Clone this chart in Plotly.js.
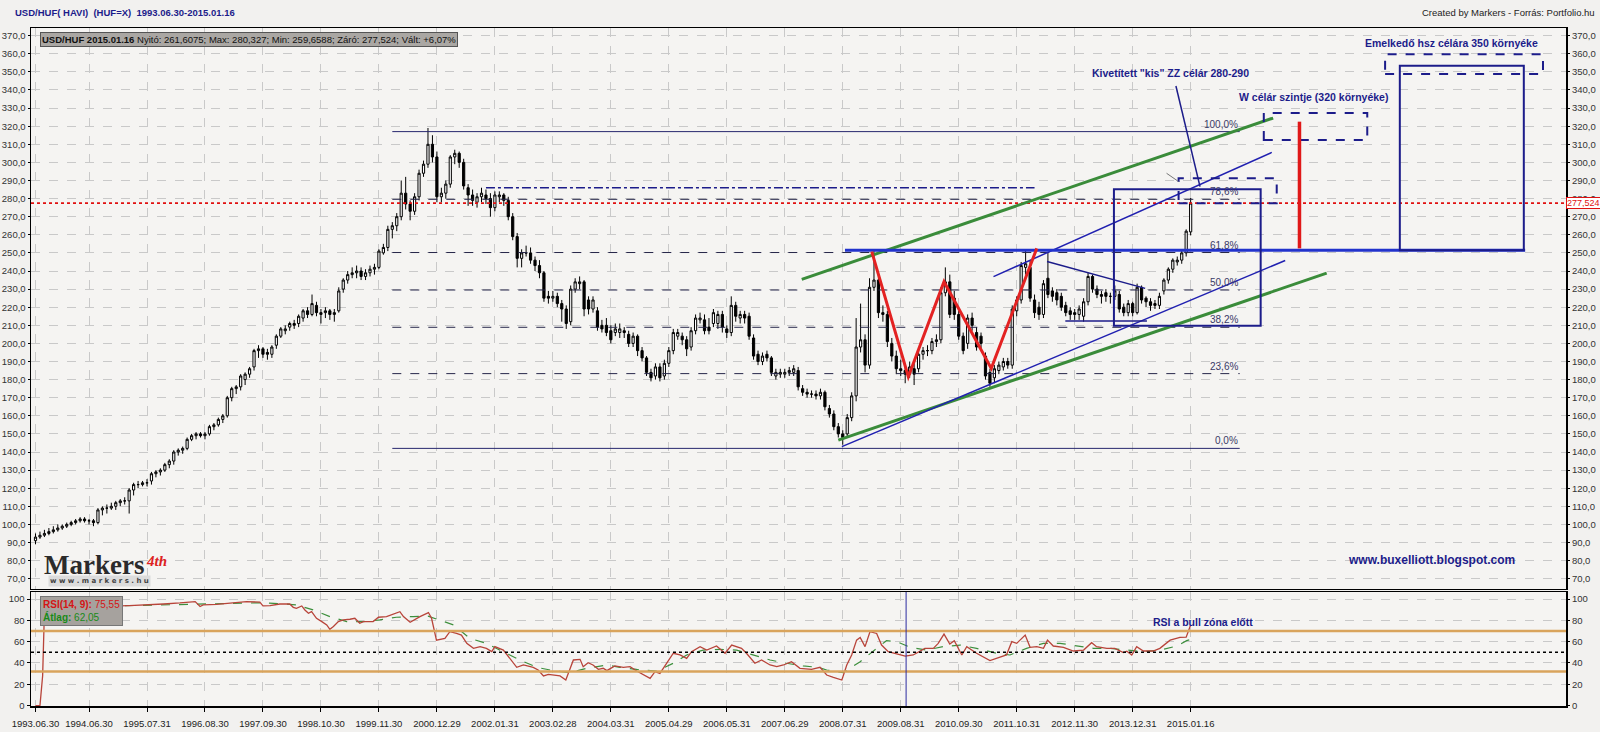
<!DOCTYPE html>
<html><head><meta charset="utf-8">
<script src="https://cdn.plot.ly/plotly-3.0.1.min.js"></script>
<style>html,body{margin:0;padding:0;background:#f2f1ef;}#chart{width:1600px;height:732px;}</style>
</head><body><div id="chart"></div>
<script>
// ---- monthly USD/HUF candles, 1993.06 .. 2015.01 (index 0..259) ----
const openP = [91,93,94,95,96,97,98,99,100,101,
102,103,102,102,101,108,109,109,110,112,
113,113,119,122,122,123,124,128,129,130,
133,135,140,141,142,147,149,150,149,150,
154,155,158,160,170,175,176,180,183,187,
196,197,195,194,199,204,207,209,211,211,
214,218,216,221,216,217,218,216,218,230,
235,238,239,240,237,239,241,242,250,253,
263,265,270,283,277,273,281,294,299,310,
303,281,283,288,303,305,300,286,282,278,
281,282,280,275,281,282,279,270,259,247,
250,250,246,243,239,226,225,226,222,219,
212,230,233,234,224,219,218,210,210,207,
206,206,207,205,200,204,196,192,184,182,
187,182,189,196,204,204,202,198,207,213,
213,209,211,211,216,208,206,221,214,216,
215,203,194,190,194,192,182,183,183,184,
184,185,175,173,172,172,171,173,164,161,
154,150,150,159,171,198,202,188,231,235,
217,216,200,193,186,185,183,186,186,194,
196,196,201,202,228,234,225,216,204,200,
214,206,204,193,184,181,185,187,190,188,
218,224,242,242,224,220,216,236,229,228,
226,221,218,217,216,215,223,237,230,227,
228,226,226,227,220,217,222,217,231,225,
223,222,221,229,235,241,245,246,250,261.6075];
const highP = [95,96,97,98,99,100,100,101,102,103,
104,104,103,103,109,110,111,112,113,114,
115,120,123,124,124,125,129,130,131,134,
136,141,142,143,148,150,151,151,151,155,
156,159,161,171,176,177,183,184,187,197,
199,198,197,199,205,209,210,212,213,216,
219,220,227,223,219,220,219,219,231,236,
240,242,243,242,241,243,244,252,255,265,
267,272,290,292,279,283,296,301,319,315,
306,286,290,304,307,306,302,288,285,283,
286,285,283,284,284,283,281,272,261,252,
254,253,248,246,240,229,229,228,224,221,
232,236,237,235,226,226,220,213,214,210,
211,211,209,207,206,205,198,193,186,189,
189,191,198,208,208,206,204,209,216,217,
216,214,219,218,218,210,226,223,218,218,
217,205,196,195,196,193,186,186,186,187,
188,187,177,175,174,174,175,174,166,163,
156,152,161,173,214,222,205,236,251,240,
221,218,203,196,191,188,190,189,196,198,
199,203,205,231,242,238,229,218,206,216,
217,209,206,195,186,188,190,192,192,221,
226,245,252,246,227,223,235,250,231,230,
228,223,220,219,221,225,239,238,232,229,
230,228,232,229,222,224,223,233,232,226,
225,224,228,236,242,247,248,251,263,280.327];
const lowP = [89,92,93,94,95,96,97,98,99,100,
101,101,100,99,100,105,106,108,108,110,
111,106,116,120,121,121,122,126,127,129,
131,133,138,139,141,146,147,148,147,149,
152,154,156,159,168,172,174,177,181,185,
192,192,191,192,197,203,205,207,208,209,
212,214,215,215,211,214,213,212,217,228,
233,236,236,235,235,237,238,241,249,251,
258,262,268,274,268,271,279,292,297,300,
278,278,280,286,299,297,285,276,276,275,
278,277,270,273,278,276,268,257,242,242,
248,244,240,236,223,222,223,220,212,208,
210,228,230,215,216,217,207,206,204,200,
204,203,203,198,198,193,190,182,179,180,
179,180,187,194,202,199,193,196,205,211,
205,205,209,208,206,203,204,212,211,211,
202,191,188,188,190,182,180,181,181,182,
182,174,171,170,170,169,169,163,159,152,
148,144,148,157,168,195,184,186,229,214,
212,198,190,183,182,178,181,177,184,191,
193,194,198,200,226,214,213,202,194,197,
207,196,197,180,176,178,183,185,186,186,
215,222,238,223,214,213,214,225,223,221,
218,215,213,213,213,212,221,228,225,222,
223,222,224,217,215,215,215,216,222,220,
218,219,219,227,233,239,243,244,248,259.6588];
const closeP = [93,94,95,96,97,98,99,100,101,102,
103,102,102,101,108,109,109,110,112,113,
113,119,122,122,123,123,128,129,130,133,
135,140,141,142,147,149,150,149,150,154,
155,158,160,170,175,176,182,183,186,196,
197,194,194,198,204,208,208,211,210,215,
218,216,222,217,217,218,216,217,229,235,
238,239,240,237,239,241,242,251,253,263,
265,270,283,277,273,281,294,299,310,303,
281,283,288,303,305,300,287,282,279,281,
283,280,275,282,282,279,270,259,247,250,
250,246,243,239,225,225,226,222,219,211,
230,234,234,219,219,224,209,208,206,202,
208,208,206,200,204,196,192,184,181,187,
181,189,196,206,206,202,197,207,214,214,
207,207,217,216,209,206,221,215,216,214,
204,193,190,193,192,184,184,184,184,185,
186,176,173,172,172,171,173,165,161,154,
150,148,159,171,198,202,188,231,235,217,
216,201,193,186,185,183,187,183,194,196,
196,201,202,228,234,216,216,204,196,214,
210,198,200,182,178,186,188,190,188,219,
224,243,244,225,217,216,233,227,226,224,
220,217,216,216,219,223,237,230,227,226,
226,226,229,219,217,222,217,231,224,223,
221,221,226,235,241,246,246,250,262,277.524];

// x tick labels (month index -> date label)
const tickIdx = [0,12,25,38,51,64,77,90,103,116,129,142,155,168,181,194,207,220,233,246,259];
const tickText = ['1993.06.30','1994.06.30','1995.07.31','1996.08.30','1997.09.30','1998.10.30','1999.11.30','2000.12.29','2002.01.31','2003.02.28','2004.03.31','2005.04.29','2006.05.31','2007.06.29','2008.07.31','2009.08.31','2010.09.30','2011.10.31','2012.11.30','2013.12.31','2015.01.16'];

// RSI(14) line (month index, value)
const rsiIdx = [0,1,1.6,2,3,8,14,21,25,28.7,32.4,35.8,36.9,37.6,40.6,43.6,47.3,50.3,51,52.6,54.8,57,57.8,58.5,59.7,60.4,61.2,61.9,63,64.2,65.3,66,66.8,67.9,69,70.5,71.6,72.7,73.5,75.7,76.9,78.7,80.2,81.7,82.5,84,86.2,88.1,88.8,89.9,91.8,92.9,94.4,95.5,96.7,98.2,99.7,101.1,102.3,103,104.9,106.4,107.9,109.4,111.6,112.7,113.9,115,116.1,117.6,118.9,120.6,122.1,122.8,123.9,125,126.2,127.3,128.1,129.9,131.8,133.3,134.8,136.3,137.8,138.9,140,141.5,143,144.5,146,147.1,149,150.5,152.7,154.6,156.1,158.3,159.4,161.3,162.8,164.7,166.2,167.7,169.5,171.4,174,175.9,177.4,178.9,180.8,181.9,183,184.1,184.9,186,187.1,188.6,189.7,191.2,193.1,195,196.8,198.3,199.4,201.3,202.4,203.7,205,206,207.7,208.8,211,214,215.5,217.7,218.9,220,221.9,223,224.5,226,226.9,228.2,230.5,232.7,235,236.8,237.9,240.2,242,243.9,244.7,245.8,246.9,248.4,250.6,252.1,254.4,256.6,258,259];
const rsiVal = [0,0,28,88,93,93,93,93.8,94.4,95.3,96.3,97.6,92.9,94.4,95,96,97.6,97,93.5,93.8,95.3,95.3,92.2,91.3,93.5,89.7,86.6,88.1,81.9,78.8,75.7,71.6,74.2,78.8,80.4,81,81.9,77.2,78.8,78.8,82.9,83.5,85.7,88.1,83.5,78.2,83.5,87.3,81.9,61.4,63,69.3,67.7,66.2,58.4,53.7,55.3,53.7,50.6,55.3,52.1,44.3,35.9,38.1,35.9,33.4,27.8,29.3,28.7,27.8,24,42.8,43.4,36.5,40.3,38.1,34,35,32.8,37.2,35.9,36.5,32.4,29.3,25.6,31.8,30.2,39.7,49.1,47.5,44.3,50.6,55.3,52.1,55.9,49.1,56.8,53.7,49.1,39.7,42.8,38.1,36.5,38.1,41.2,35,34,35.9,28.7,26.5,24,38.1,47.5,61.4,64,55.3,69.3,67.7,56.8,50.6,48.4,46.5,47.5,51.2,53.7,53.7,58.4,67.1,57.8,60.9,47.5,55.3,49.1,42.2,44.3,47.5,60,58.4,66.2,54.7,55.3,53.7,61.4,55.9,54.7,51.2,52.1,59,55.3,53.7,53.7,49.8,51,47.5,55.3,51.2,51.2,53.7,61.4,64,64.2,75.55];
// RSI average (9)
const avgIdx = [12,21.2,30,43.6,51,57,58.6,62.3,66,69.8,73.5,77.2,80.9,84.7,88,93.7,97.4,101.1,104.9,108.6,112.4,116.1,119.8,123.6,128.1,131,134.8,139.3,143,146,149.7,153.5,157.2,160.9,164.7,168.4,172.1,175.5,177.4,181.1,184.9,188.6,190.8,193.1,196.1,199.8,203.5,207.3,211,215.5,218.5,222.2,226,229.7,233.4,237.2,240.9,244.7,248.4,252.1,255.9,258.1,259];
const avgVal = [93,93.8,95,96,96.5,95,94.4,89.7,83.5,78.8,78.8,80.4,82.9,83.5,84,75.7,63,58.4,50.6,42.8,35.9,32.8,31,35,38.1,35.9,34,32.4,39.7,47.5,52.1,52.8,52.1,47.5,42.8,39.7,37.2,35.9,33.4,31,41.2,53.7,60.9,60,54.7,52.1,55.3,56.8,53.7,49.1,47.5,53.7,58.4,58.4,55.9,53.7,53.7,52.1,50.6,52.1,55.9,60.9,62.05];

// Fibonacci retracement levels drawn on the chart
const fibLevels = [142, 183.3, 208.9, 229.5, 250.2, 279.6, 317];
const fibLabels = ['0,0%','23,6%','38,2%','50,0%','61,8%','78,6%','100,0%'];
const lastClose = 277.524;

// ---------------- drawing ----------------
const months = openP.map((_, k) => k);
const F = "'Liberation Sans', Arial, sans-serif";
const NAVY = '#1c1c8a';
const GRID = '#c9c9c9';

const priceTicks = [], priceText = [];
for (let v = 70; v <= 370; v += 10) { priceTicks.push(v); priceText.push(v.toFixed(1).replace('.', ',')); }
const rsiTicks = [0,20,40,60,80,100];

const traces = [
  {type:'candlestick', x:months, open:openP, high:highP, low:lowP, close:closeP,
   xaxis:'x', yaxis:'y', whiskerwidth:0, hoverinfo:'skip', showlegend:false,
   increasing:{line:{color:'#000', width:1}, fillcolor:'#ffffff'},
   decreasing:{line:{color:'#000', width:1}, fillcolor:'#000000'}},
  {type:'scatter', mode:'lines', x:avgIdx, y:avgVal, xaxis:'x2', yaxis:'y2',
   line:{color:'#3d8f3d', width:1.2, dash:'dash'}, hoverinfo:'skip', showlegend:false},
  {type:'scatter', mode:'lines', x:rsiIdx, y:rsiVal, xaxis:'x2', yaxis:'y2',
   line:{color:'#b8443a', width:1.3}, hoverinfo:'skip', showlegend:false}
];

function seg(x0,y0,x1,y1,color,width,dash){
  return {type:'line', xref:'x', yref:'y', x0, y0, x1, y1, line:{color, width, dash:dash||'solid'}};
}
function box(x0,y0,x1,y1,color,width,dash){
  return {type:'rect', xref:'x', yref:'y', x0, y0, x1, y1, line:{color, width, dash:dash||'solid'}, fillcolor:'rgba(0,0,0,0)'};
}

const shapes = [];
shapes.push({type:'line', xref:'x domain', yref:'y', x0:0, x1:1, y0:lastClose, y1:lastClose, line:{color:'#e01010', width:1.6, dash:'dot'}});
fibLevels.forEach((lv, k) => {
  const solid = (k === 0 || k === fibLevels.length - 1);
  shapes.push(seg(80, lv, 270, lv, solid ? '#27276e' : '#27274a', 1, solid ? 'solid' : 'dash'));
});
shapes.push(seg(101, 286, 224, 286, NAVY, 1.5, 'dashdot'));
shapes.push(seg(171.8, 235.4, 277.5, 324.5, '#3a8c3a', 3));
shapes.push(seg(180, 146.6, 289.5, 238.8, '#3a8c3a', 3));
shapes.push(seg(180.8, 143, 280.2, 245.8, '#2020b0', 1.5));
shapes.push(seg(214.8, 236.9, 277.2, 305.5, '#2020b0', 1.5));
shapes.push(seg(181.5, 251.5, 334, 251.5, '#2233cc', 3));
shapes.push(seg(226.8, 245.2, 248.8, 230.4, NAVY, 1.5));
shapes.push(seg(230.9, 212.4, 249.2, 212.4, NAVY, 1.5));
shapes.push({type:'path', xref:'x', yref:'y', path:'M187.5,250.7 L195.7,181.6 L203.7,234.1 L214.3,186.2 L224.5,252.5', line:{color:'#e32222', width:3}});
shapes.push(box(241.8, 209.8, 274.7, 285.1, NAVY, 2));
shapes.push(box(256.3, 277.4, 278.3, 291.2, NAVY, 2, 'dash'));
shapes.push(seg(253.6, 294, 256.3, 289.4, '#777777', 1));
shapes.push(seg(255.7, 342.2, 261.1, 286.6, NAVY, 1.5));
shapes.push(box(275.4, 312.4, 298.6, 327.3, NAVY, 2, 'dash'));
shapes.push(seg(283.4, 252.5, 283.4, 322.5, '#e01818', 3.5));
shapes.push(box(302.6, 348.8, 338, 359.7, NAVY, 2, 'dash'));
shapes.push(box(305.9, 251.5, 333.7, 353.4, NAVY, 2));
shapes.push({type:'line', xref:'x2 domain', yref:'y2', x0:0, x1:1, y0:70, y1:70, line:{color:'#d9a45c', width:2.5}});
shapes.push({type:'line', xref:'x2 domain', yref:'y2', x0:0, x1:1, y0:32, y1:32, line:{color:'#d9a45c', width:2.5}});
shapes.push({type:'line', xref:'x2 domain', yref:'y2', x0:0, x1:1, y0:50, y1:50, line:{color:'#000', width:1.5, dash:'dot'}});
shapes.push({type:'line', xref:'x2', yref:'y2 domain', x0:195.2, x1:195.2, y0:0, y1:1, line:{color:'#2a2aa0', width:1}});

const ann = [];
ann.push({xref:'paper', yref:'paper', x:-0.0117, y:1.0, xanchor:'left', yanchor:'bottom', yshift:8, showarrow:false,
  text:'<b>USD/HUF( HAVI)  (HUF=X)  1993.06.30-2015.01.16</b>', font:{family:F, size:9.5, color:NAVY}});
ann.push({xref:'paper', yref:'paper', x:1.0205, y:1.0, xanchor:'right', yanchor:'bottom', yshift:8, showarrow:false,
  text:'Created by Markers - Forrás: Portfolio.hu', font:{family:F, size:9.5, color:'#222'}});
ann.push({xref:'paper', yref:'paper', x:0.0057, y:0.9935, xanchor:'left', yanchor:'top', showarrow:false,
  text:'<b>USD/HUF 2015.01.16</b> Nyitó: 261,6075; Max: 280,327; Min: 259,6588; Záró: 277,524; Vált: +6,07%',
  font:{family:F, size:9.5, color:'#111'}, bgcolor:'#aaa7a3', bordercolor:'#555', borderwidth:1, borderpad:1});
fibLevels.forEach((lv, k) => {
  ann.push({xref:'x', yref:'y', x:270, y:lv, xanchor:'right', yanchor:'bottom', showarrow:false,
    text:fibLabels[k], font:{family:F, size:10, color:'#3a3a66'}});
});
ann.push({xref:'x', yref:'y', x:317.5, y:366.1, xanchor:'center', yanchor:'middle', showarrow:false,
  text:'<b>Emelkedő hsz célára 350 környéke</b>', font:{family:F, size:10.5, color:NAVY}});
ann.push({xref:'x', yref:'y', x:254.4, y:349.3, xanchor:'center', yanchor:'middle', showarrow:false,
  text:'<b>Kivetített "kis" ZZ célár 280-290</b>', font:{family:F, size:10.5, color:NAVY}});
ann.push({xref:'x', yref:'y', x:286.6, y:336, xanchor:'center', yanchor:'middle', showarrow:false,
  text:'<b>W célár szintje (320 környéke)</b>', font:{family:F, size:10.5, color:NAVY}});
ann.push({xref:'x', yref:'y', x:312.9, y:80.3, xanchor:'center', yanchor:'middle', showarrow:false,
  text:'<b>www.buxelliott.blogspot.com</b>', font:{family:F, size:12, color:NAVY}});
ann.push({xref:'x2', yref:'y2', x:261.8, y:78, xanchor:'center', yanchor:'middle', showarrow:false,
  text:'<b>RSI a bull zóna előtt</b>', font:{family:F, size:10.5, color:NAVY}});
ann.push({xref:'paper', yref:'y', x:1, y:lastClose, xanchor:'left', yanchor:'middle', xshift:0, showarrow:false,
  text:'277,524', font:{family:F, size:9, color:'#e01010'}, bgcolor:'#ffffff', bordercolor:'#e01010', borderwidth:1, borderpad:0});
ann.push({xref:'paper', yref:'y2', x:0.0057, y:103, xanchor:'left', yanchor:'top', showarrow:false, align:'left',
  text:'<span style="color:#d41515"><b>RSI(14, 9):</b> 75,55</span><br><span style="color:#188a18"><b>Átlag:</b> 62,05</span>',
  font:{family:F, size:10}, bgcolor:'#a6a29e', bordercolor:'#777', borderwidth:1, borderpad:2});
// logo
ann.push({xref:'x', yref:'y', x:1.5, y:77.5, xanchor:'left', yanchor:'middle', showarrow:false,
  text:'<b>Markers</b>', font:{family:"'Liberation Serif','DejaVu Serif',serif", size:27, color:'#2b2b2b'}});
ann.push({xref:'x', yref:'y', x:24.3, y:80, xanchor:'left', yanchor:'middle', showarrow:false,
  text:'<i><b>4th</b></i>', font:{family:"'Liberation Serif',serif", size:15, color:'#d22'}});
ann.push({xref:'x', yref:'y', x:2.8, y:68.8, xanchor:'left', yanchor:'middle', showarrow:false,
  text:'<b>w w w . m a r k e r s . h u</b>', font:{family:"'DejaVu Sans',sans-serif", size:7, color:'#444'}, bgcolor:'#dcdcdc'});

const xRange = [-1.009, 343.16];
const baseX = {range:xRange, tickmode:'array', tickvals:tickIdx, showgrid:true, gridcolor:GRID, griddash:'dash', gridwidth:1,
  zeroline:false, showline:true, mirror:true, linecolor:'#000', linewidth:1.5, fixedrange:true};

const layout = {
  width:1600, height:732,
  margin:{l:31, r:34, t:28, b:26},
  paper_bgcolor:'#f2f1ef', plot_bgcolor:'#f5f4f2',
  showlegend:false, hovermode:false, dragmode:false,
  font:{family:F, size:10, color:'#222'},
  xaxis: Object.assign({}, baseX, {anchor:'y', domain:[0,1], showticklabels:false, ticks:'', rangeslider:{visible:false}}),
  xaxis2: Object.assign({}, baseX, {anchor:'y2', domain:[0,1], ticktext:tickText, ticks:'outside', ticklen:4, tickcolor:'#000',
    tickangle:0, tickfont:{family:F, size:9.5, color:'#222'}, ticklabelstandoff:4}),
  yaxis: {domain:[0.17257,1], anchor:'x', range:[64.31,374.25], tickmode:'array', tickvals:priceTicks, ticktext:priceText,
    ticks:'outside', ticklen:2, tickcolor:'#000', showgrid:true, gridcolor:GRID, griddash:'dash', zeroline:false,
    showline:true, mirror:true, linecolor:'#000', linewidth:1.5, tickfont:{family:F, size:9.5, color:'#333'}, fixedrange:true},
  yaxis3: {overlaying:'y', side:'right', anchor:'x', range:[64.31,374.25], tickmode:'array', tickvals:priceTicks, ticktext:priceText,
    ticks:'outside', ticklen:3, tickcolor:'#000', showgrid:false, zeroline:false, showline:false,
    tickfont:{family:F, size:9.5, color:'#333'}, fixedrange:true},
  yaxis2: {domain:[0,0.16814], anchor:'x2', range:[-0.375,106.57], tickmode:'array', tickvals:rsiTicks,
    ticks:'outside', ticklen:3, tickcolor:'#000', showgrid:true, gridcolor:GRID, griddash:'dash', zeroline:false,
    showline:true, mirror:true, linecolor:'#000', linewidth:1.5, tickfont:{family:F, size:9.5, color:'#333'}, fixedrange:true},
  yaxis4: {overlaying:'y2', side:'right', anchor:'x2', range:[-0.375,106.57], tickmode:'array', tickvals:rsiTicks,
    ticks:'outside', ticklen:3, tickcolor:'#000', showgrid:false, zeroline:false, showline:false,
    tickfont:{family:F, size:9.5, color:'#333'}, fixedrange:true},
  shapes: shapes,
  annotations: ann
};

traces.push({type:'scatter', x:[0], y:[0], xaxis:'x', yaxis:'y3', mode:'markers', marker:{opacity:0}, hoverinfo:'skip', showlegend:false});
traces.push({type:'scatter', x:[0], y:[0], xaxis:'x2', yaxis:'y4', mode:'markers', marker:{opacity:0}, hoverinfo:'skip', showlegend:false});

Plotly.newPlot('chart', traces, layout, {staticPlot:true, displayModeBar:false});
</script></body></html>
